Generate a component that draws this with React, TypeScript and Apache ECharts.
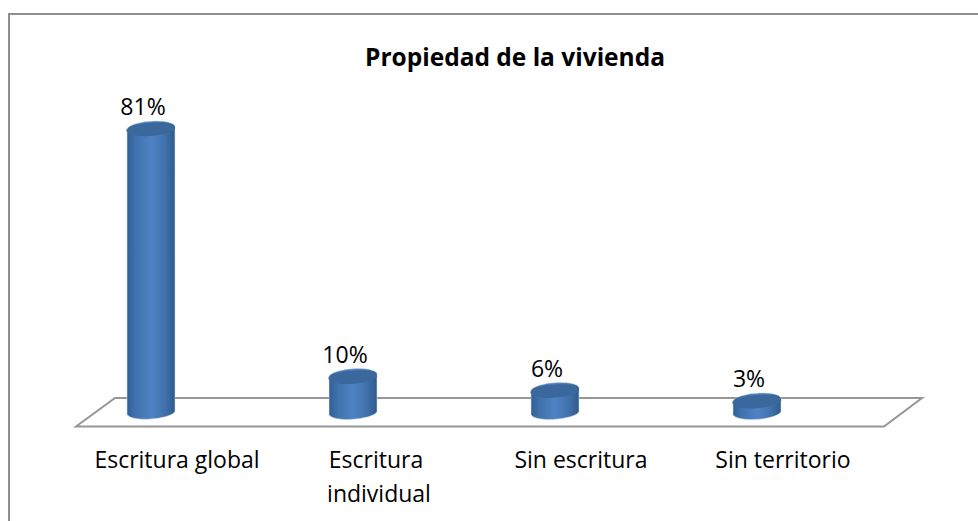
import React, { useEffect, useRef } from "react";
import * as echarts from "echarts";

const titleText = "Propiedad de la vivienda";
const categories = ["Escritura global", "Escritura individual", "Sin escritura", "Sin territorio"];
const values = [81, 10, 6, 3];

const FONT = "'Open Sans', 'Noto Sans', sans-serif";

function renderCylinder(_params: any, api: any) {
  const idx = api.value(0);
  const val = api.value(1);
  const [cxBand, yTop] = api.coord([idx, val]);
  const [, yBase] = api.coord([idx, 0]);
  const cx = cxBand - 26;
  const rx = 24;
  const ry = 7;
  const tilt = 1.6;
  const rot = -4;
  const lx = cx - rx, rxp = cx + rx;
  const bodyPath =
    `M ${lx} ${yTop + tilt} L ${lx} ${yBase + tilt} ` +
    `A ${rx} ${ry} ${rot} 0 0 ${rxp} ${yBase - tilt} ` +
    `L ${rxp} ${yTop - tilt} ` +
    `A ${rx} ${ry} ${rot} 0 0 ${lx} ${yTop + tilt} Z`;
  const topPath =
    `M ${lx} ${yTop + tilt} A ${rx} ${ry} ${rot} 0 1 ${rxp} ${yTop - tilt} ` +
    `A ${rx} ${ry} ${rot} 0 1 ${lx} ${yTop + tilt} Z`;
  const bodyFill = new echarts.graphic.LinearGradient(0, 0, 1, 0, [
    { offset: 0, color: "#305f95" },
    { offset: 0.18, color: "#3f71ad" },
    { offset: 0.5, color: "#5083c5" },
    { offset: 0.8, color: "#3f70aa" },
    { offset: 1, color: "#2f5a8a" },
  ]);
  return {
    type: "group",
    children: [
      {
        type: "path",
        shape: { pathData: bodyPath, x: lx, y: yTop - ry, width: rx * 2, height: yBase - yTop + ry * 2 },
        style: { fill: bodyFill, stroke: "#c9d6e6", lineWidth: 0.5 },
      },
      {
        type: "path",
        shape: { pathData: topPath, x: lx, y: yTop - ry - tilt, width: rx * 2, height: ry * 2 + tilt * 2 },
        style: { fill: "#3a689c" },
      },
      {
        type: "text",
        style: {
          x: cx - 8,
          y: yTop - 23,
          text: val + "%",
          font: `23px ${FONT}`,
          fill: "#000",
          align: "center",
          verticalAlign: "middle",
        },
      },
    ],
  };
}

export default function App() {
  const ref = useRef<HTMLDivElement>(null);
  useEffect(() => {
    const chart = echarts.init(ref.current!, null, { renderer: "svg" });
    chart.setOption({
      animation: false,
      backgroundColor: "#fff",
      title: {
        text: titleText,
        left: 510,
        top: 39,
        textAlign: "center",
        textStyle: { fontFamily: FONT, fontWeight: "bold", fontSize: 24.5, color: "#000" },
      },
      grid: { left: 76, right: 94, top: 62.5, bottom: 109.5 },
      xAxis: {
        type: "category",
        data: categories,
        axisLine: { show: false },
        axisTick: { show: false },
        axisLabel: {
          fontFamily: FONT,
          fontSize: 23,
          color: "#000",
          margin: 30,
          lineHeight: 34,
          width: 190,
          overflow: "break",
          interval: 0,
        },
      },
      yAxis: { type: "value", min: 0, max: 100, show: false },
      graphic: [
        {
          type: "polyline",
          z: -1,
          silent: true,
          shape: { points: [[978, 14], [9, 14], [9, 521]] },
          style: { stroke: "#8e8e8e", lineWidth: 2, fill: "none" },
        },
        {
          type: "polygon",
          z: -1,
          silent: true,
          shape: { points: [[76, 426.5], [115, 398], [922, 398], [884, 426.5]] },
          style: { stroke: "#969696", lineWidth: 2, fill: "#fff" },
        },
      ],
      series: [
        {
          type: "custom",
          z: 5,
          renderItem: renderCylinder,
          encode: { x: 0, y: 1 },
          data: values.map((v, i) => [i, v]),
          clip: false,
        },
      ],
    });
    return () => chart.dispose();
  }, []);
  return <div ref={ref} style={{ position: "fixed", left: 0, top: 0, width: 978, height: 521 }} />;
}
